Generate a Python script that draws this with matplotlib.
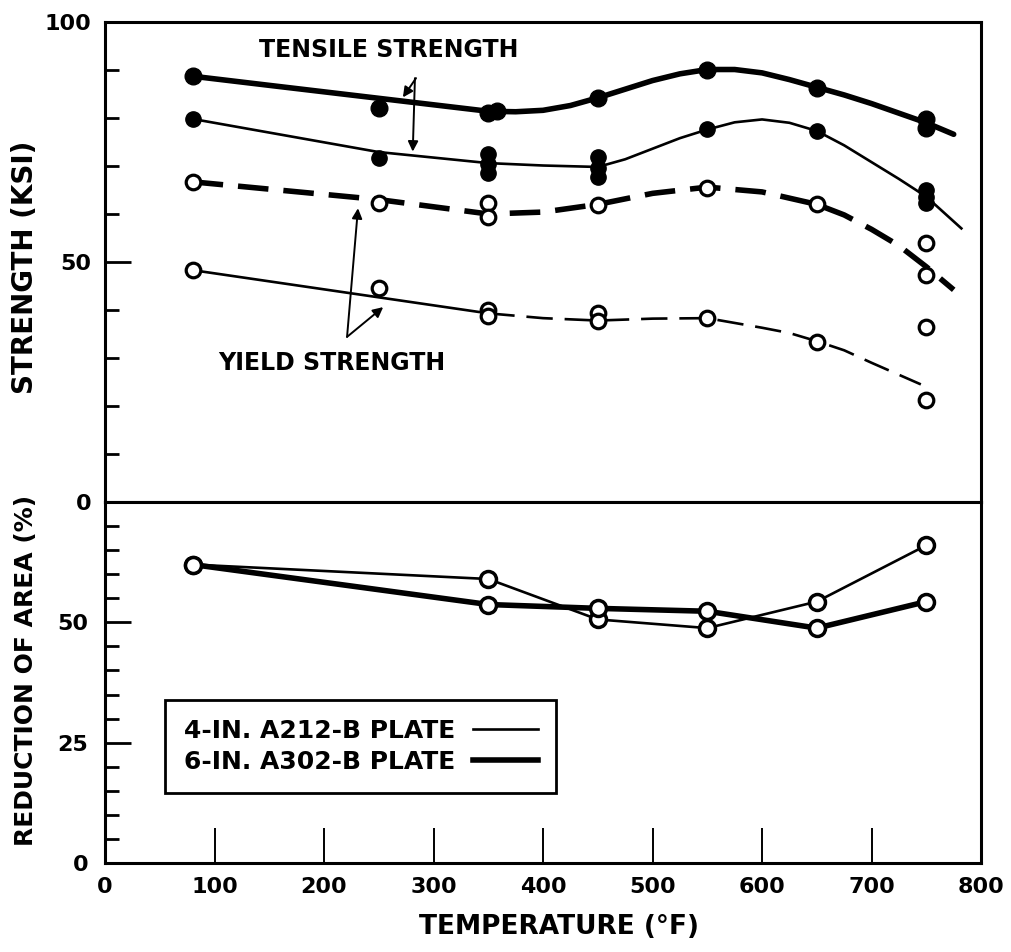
import matplotlib
matplotlib.use('Agg')
import matplotlib.pyplot as plt
from matplotlib.lines import Line2D
from matplotlib.ticker import MultipleLocator

plt.rcParams['font.family'] = 'DejaVu Sans'
plt.rcParams['font.weight'] = 'bold'

# ---- data ----
# tensile strength points (filled)
ts302_T = [80, 250, 350, 358, 450, 550, 650, 750, 750]
ts302_v = [88.7, 82.0, 81.0, 81.5, 84.2, 90.0, 86.3, 79.8, 77.9]
ts212_T = [80, 250, 350, 350, 350, 450, 450, 450, 550, 650, 750, 750, 750]
ts212_v = [79.8, 71.6, 72.5, 70.5, 68.5, 71.9, 69.6, 67.7, 77.7, 77.3, 65.0, 63.5, 62.3]

# yield strength points (open)
ys302_T = [80, 250, 350, 350, 450, 550, 650, 750, 750]
ys302_v = [66.7, 62.3, 62.3, 59.3, 61.8, 65.4, 62.0, 54.0, 47.3]
ys212_T = [80, 250, 350, 350, 450, 450, 550, 650, 750, 750]
ys212_v = [48.3, 44.6, 40.0, 38.7, 39.4, 37.8, 38.3, 33.3, 36.5, 21.2]

# faired curves
c_ts302_T = [80, 150, 250, 350, 375, 400, 425, 450, 475, 500, 525, 550, 575, 600, 625, 650, 675, 700, 725, 750, 775]
c_ts302_v = [88.7, 86.8, 84.1, 81.4, 81.3, 81.6, 82.6, 84.2, 86.0, 87.8, 89.2, 90.1, 90.1, 89.4, 88.0, 86.4, 84.8, 83.0, 81.0, 79.0, 76.6]

c_ts212_T = [80, 250, 350, 400, 450, 475, 500, 525, 550, 575, 600, 625, 650, 675, 700, 725, 750, 782]
c_ts212_v = [79.8, 72.9, 70.6, 70.1, 69.8, 71.4, 73.6, 75.8, 77.6, 79.1, 79.7, 79.0, 77.3, 74.3, 70.8, 67.3, 63.6, 57.0]

c_ys302_T = [80, 250, 350, 400, 450, 500, 550, 600, 650, 675, 700, 725, 750, 775]
c_ys302_v = [66.7, 63.0, 60.0, 60.4, 62.0, 64.3, 65.6, 64.6, 62.0, 59.8, 56.8, 53.4, 49.0, 44.2]

c_ys212a_T = [80, 350]
c_ys212a_v = [48.3, 39.3]
c_ys212b_T = [350, 400, 450, 500, 550, 600, 625, 650, 675, 700, 725, 745]
c_ys212b_v = [39.3, 38.3, 37.8, 38.2, 38.3, 36.3, 35.2, 33.5, 31.6, 29.0, 26.5, 24.5]

# reduction of area
ra_T = [80, 350, 450, 550, 650, 750]
ra212_v = [62.0, 59.0, 50.6, 48.8, 54.3, 66.0]
ra302_v = [62.0, 53.7, 52.9, 52.3, 48.8, 54.3]

legend_labels = ['4-IN. A212-B PLATE', '6-IN. A302-B PLATE']

# ---- figure ----
fig = plt.figure(figsize=(10.11, 9.52), dpi=100)
ax1 = fig.add_axes([0.1039, 0.4727, 0.8665, 0.5042])
ax2 = fig.add_axes([0.1039, 0.0935, 0.8665, 0.3792])

thin, thick = 1.9, 4.0

# top panel: strength
ax1.plot(c_ts302_T, c_ts302_v, color='k', lw=thick, solid_capstyle='round')
ax1.plot(c_ts212_T, c_ts212_v, color='k', lw=thin)
ax1.plot(c_ys302_T, c_ys302_v, color='k', lw=thick, dashes=(5.5, 2.7))
ax1.plot(c_ys212a_T, c_ys212a_v, color='k', lw=thin)
ax1.plot(c_ys212b_T, c_ys212b_v, color='k', lw=thin, dashes=(10, 4.5))

ax1.plot(ts302_T, ts302_v, 'o', color='k', ms=12)
ax1.plot(ts212_T, ts212_v, 'o', color='k', ms=11)
ax1.plot(ys302_T, ys302_v, 'o', mfc='white', mec='k', ms=10.5, mew=2.3)
ax1.plot(ys212_T, ys212_v, 'o', mfc='white', mec='k', ms=10.5, mew=2.3)

arrow = dict(arrowstyle='-|>', color='k', lw=1.4, mutation_scale=15, shrinkA=0, shrinkB=0)
ax1.text(259, 94.2, 'TENSILE STRENGTH', ha='center', va='center', fontsize=17)
ax1.annotate('', xy=(272, 84.3), xytext=(284, 88.3), arrowprops=arrow)
ax1.annotate('', xy=(281, 73.0), xytext=(283, 88.3), arrowprops=arrow)
ax1.text(207, 29.0, 'YIELD STRENGTH', ha='center', va='center', fontsize=17)
ax1.annotate('', xy=(231, 61.2), xytext=(221, 34.4), arrowprops=arrow)
ax1.annotate('', xy=(254, 40.6), xytext=(221, 34.4), arrowprops=arrow)

ax1.set_xlim(0, 800)
ax1.set_ylim(0, 100)
ax1.set_xticks([])
ax1.set_yticks([0, 50, 100])
ax1.yaxis.set_minor_locator(MultipleLocator(10))
ax1.tick_params(axis='y', which='major', direction='in', length=19, width=2, labelsize=16, pad=10)
ax1.tick_params(axis='y', which='minor', direction='in', length=10, width=2)

# bottom panel: reduction of area
ax2.plot(ra_T, ra212_v, 'o-', color='k', lw=thin, mfc='white', mec='k', ms=11.5, mew=2.5)
ax2.plot(ra_T, ra302_v, 'o-', color='k', lw=thick, mfc='white', mec='k', ms=11.5, mew=2.5)

ax2.set_xlim(0, 800)
ax2.set_ylim(0, 75)
ax2.set_xticks(range(0, 900, 100))
ax2.set_yticks([0, 25, 50])
ax2.yaxis.set_minor_locator(MultipleLocator(5))
ax2.tick_params(axis='x', direction='in', length=25, width=1.4, labelsize=16, pad=10)
ax2.tick_params(axis='y', which='major', direction='in', length=19, width=2, labelsize=16, pad=12)
ax2.tick_params(axis='y', which='minor', direction='in', length=10, width=2)

handles = [Line2D([], [], color='k', lw=thin), Line2D([], [], color='k', lw=thick)]
leg = ax2.legend(handles, legend_labels, loc='upper left', bbox_to_anchor=(0.0685, 0.4515),
                 markerfirst=False, fancybox=False, edgecolor='k', framealpha=1,
                 fontsize=18, handlelength=2.6, handletextpad=0.7, labelspacing=0.3,
                 borderpad=0.75, borderaxespad=0)
leg.get_frame().set_linewidth(2)

for ax in (ax1, ax2):
    for s in ax.spines.values():
        s.set_linewidth(2.2)

fig.text(25 / 1011, 1 - 267 / 952, 'STRENGTH (KSI)', rotation=90, ha='center', va='center', fontsize=20)
fig.text(26 / 1011, 1 - 670 / 952, 'REDUCTION OF AREA (%)', rotation=90, ha='center', va='center', fontsize=18)
fig.text(559 / 1011, 1 - 927 / 952, 'TEMPERATURE (°F)', ha='center', va='center', fontsize=19)

fig.savefig('out.png', dpi=100, facecolor='white')
